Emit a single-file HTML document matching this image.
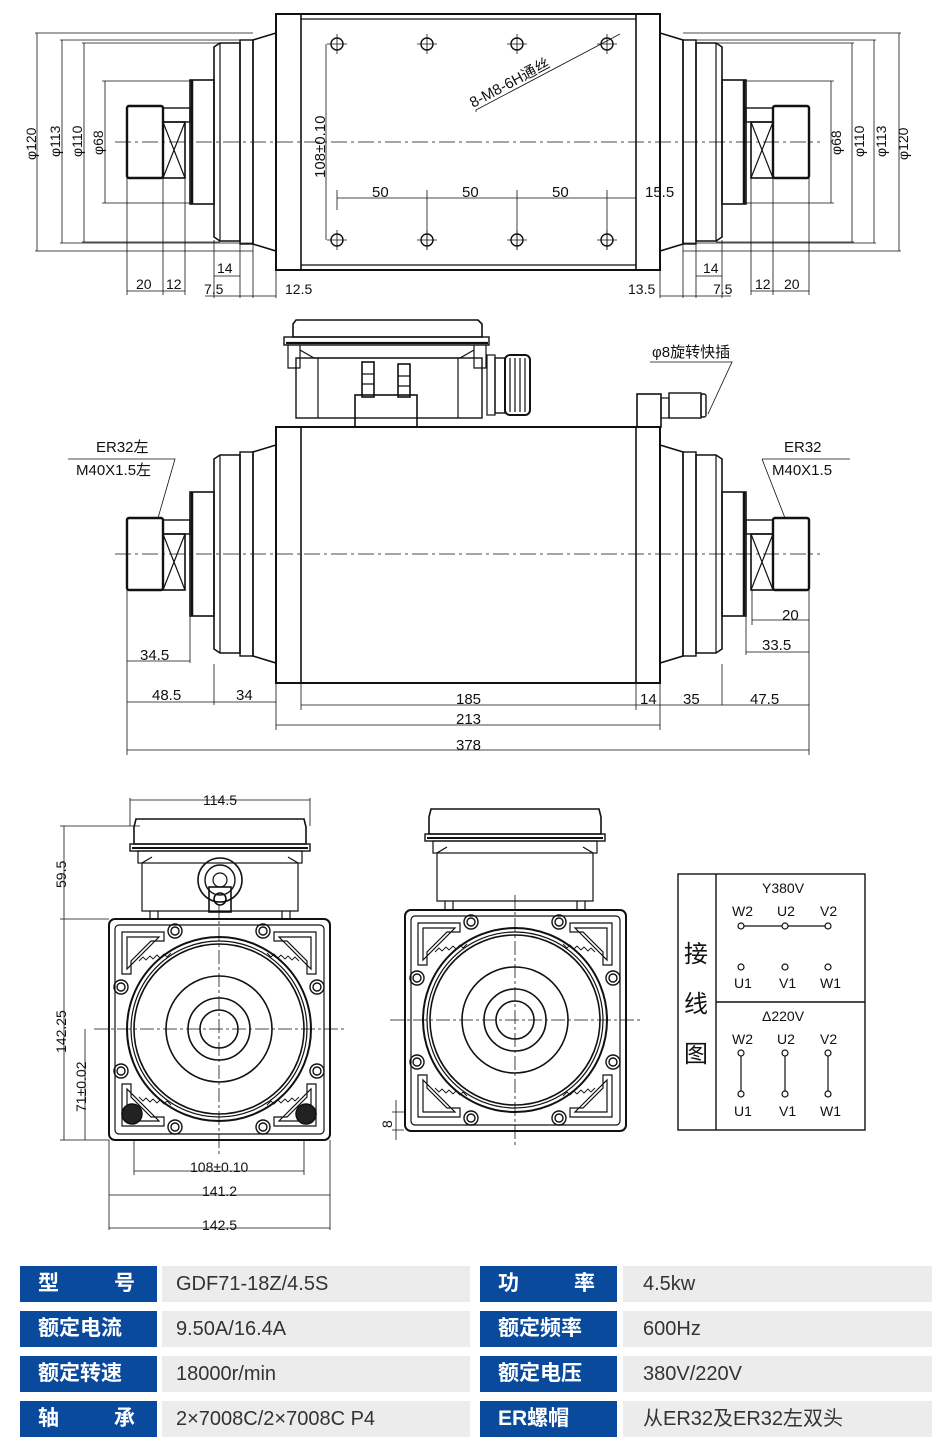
<!DOCTYPE html>
<html><head><meta charset="utf-8"><style>
html,body{margin:0;padding:0;background:#fff;}
body{width:946px;height:1447px;position:relative;overflow:hidden;font-family:"Liberation Sans","Noto Sans CJK SC",sans-serif;}
svg text{font-family:"Liberation Sans","Noto Sans CJK SC",sans-serif;fill:#111;}
.tb{position:absolute;height:36px;line-height:36px;font-size:20px;}
.lb{background:#0a4a9c;color:#fff;font-weight:bold;font-size:21px;}
.vl{background:#ececec;color:#333;padding-left:14px;box-sizing:border-box;}
</style></head><body>
<svg width="946" height="1250" viewBox="0 0 946 1250" style="position:absolute;left:0;top:0" fill="none" stroke="#111" stroke-width="1.2">
<defs>
<g id="flange">
 <path d="M276,-109 L253,-102 L253,102 L276,109 Z" stroke-width="1.6"/>
 <rect x="240" y="-102" width="13" height="204" stroke-width="1.4"/>
 <path d="M240,-99 L220,-99 L214,-95 L214,95 L220,99 L240,99 Z" stroke-width="1.6"/>
 <line x1="220" y1="-99" x2="220" y2="99"/>
 <rect x="190" y="-62" width="24" height="124" stroke-width="1.6"/>
 <line x1="192" y1="-62" x2="192" y2="62" stroke-width="2.5"/>
 <rect x="163" y="-34" width="27" height="14" stroke-width="1.4"/>
 <rect x="163" y="-20" width="22" height="56" stroke-width="1.6"/>
 <path d="M163,-20 L185,36 M185,-20 L163,36"/>
 <rect x="127" y="-36" width="36" height="72" rx="2" stroke-width="2.4"/>
</g>
<g id="face">
 <rect x="-110" y="-110" width="221" height="221" rx="6" stroke-width="2"/>
 <rect x="-104" y="-104" width="209" height="209" rx="4"/>
 <circle r="92" stroke-width="2"/><circle r="88"/><circle r="85" stroke-width="1.6"/>
 <circle r="53" stroke-width="1.6"/><circle r="31" stroke-width="1.6"/><circle r="19" stroke-width="1.6"/>
 <g stroke-width="1.4">
 <circle cx="-44" cy="-98" r="7"/><circle cx="-44" cy="-98" r="4"/>
 <circle cx="44" cy="-98" r="7"/><circle cx="44" cy="-98" r="4"/>
 <circle cx="-44" cy="98" r="7"/><circle cx="-44" cy="98" r="4"/>
 <circle cx="44" cy="98" r="7"/><circle cx="44" cy="98" r="4"/>
 <circle cx="-98" cy="-42" r="7"/><circle cx="-98" cy="-42" r="4"/>
 <circle cx="98" cy="-42" r="7"/><circle cx="98" cy="-42" r="4"/>
 <circle cx="-98" cy="42" r="7"/><circle cx="-98" cy="42" r="4"/>
 <circle cx="98" cy="42" r="7"/><circle cx="98" cy="42" r="4"/>
 </g>
 <path d="M-97,-97 L-55,-97 L-55,-88 L-68,-88 L-88,-68 L-88,-55 L-97,-55 Z M-92,-92 L-60,-92 L-92,-60 Z"/>
 <path d="M97,-97 L55,-97 L55,-88 L68,-88 L88,-68 L88,-55 L97,-55 Z M92,-92 L60,-92 L92,-60 Z"/>
 <path d="M-97,97 L-55,97 L-55,88 L-68,88 L-88,68 L-88,55 L-97,55 Z M-92,92 L-60,92 L-92,60 Z"/>
 <path d="M97,97 L55,97 L55,88 L68,88 L88,68 L88,55 L97,55 Z M92,92 L60,92 L92,60 Z"/>
 <path d="M-80,-68 l4,-4 l3,3 l4,-4 l3,3 l4,-4 l3,3 l4,-4 l3,3 l4,-4 M80,-68 l-4,-4 l-3,3 l-4,-4 l-3,3 l-4,-4 l-3,3 l-4,-4 l-3,3 l-4,-4 M-80,68 l4,4 l3,-3 l4,4 l3,-3 l4,4 l3,-3 l4,4 l3,-3 l4,4 M80,68 l-4,4 l-3,-3 l-4,4 l-3,-3 l-4,4 l-3,-3 l-4,4 l-3,-3 l-4,4" stroke-width="0.9"/>
 <g stroke="#111" stroke-width="0.8" stroke-dasharray="14,3,3,3">
 <line x1="-125" y1="0" x2="125" y2="0"/><line x1="0" y1="-125" x2="0" y2="125"/></g>
</g>
<g id="box">
 <path d="M-86,-92 L-84,-100 L84,-100 L86,-92 L86,-75 L-86,-75 Z" stroke-width="1.6"/>
 <rect x="-90" y="-75" width="180" height="7" stroke-width="1.4"/>
 <line x1="-88" y1="-71" x2="88" y2="-71" stroke-width="2"/>
 <rect x="-82" y="-68" width="164" height="12"/>
 <path d="M-68,-62 L-78,-56 L-78,-8 L78,-8 L78,-56 L68,-62"/>
 <path d="M-70,-8 L-70,0 M70,-8 L70,0 M-62,-8 L-62,0 M62,-8 L62,0"/>
</g>
</defs>

<!-- ===== TOP VIEW ===== -->
<rect x="276" y="14" width="384" height="256" stroke-width="2"/>
<line x1="301" y1="14" x2="301" y2="270" stroke-width="1.6"/>
<line x1="636" y1="14" x2="636" y2="270" stroke-width="1.6"/>
<line x1="301" y1="19" x2="636" y2="19"/><line x1="301" y1="265" x2="636" y2="265"/>
<use href="#flange" transform="translate(0,142)"/>
<use href="#flange" transform="translate(936,142) scale(-1,1)"/>
<line x1="115" y1="142" x2="820" y2="142" stroke-width="0.8" stroke-dasharray="16,4,3,4"/>
<g stroke-width="1.4">
<circle cx="337" cy="44" r="6"/><circle cx="427" cy="44" r="6"/><circle cx="517" cy="44" r="6"/><circle cx="607" cy="44" r="6"/>
<circle cx="337" cy="240" r="6"/><circle cx="427" cy="240" r="6"/><circle cx="517" cy="240" r="6"/><circle cx="607" cy="240" r="6"/>
</g>
<g stroke-width="0.8">
<path d="M337,34 V54 M327,44 H347 M427,34 V54 M417,44 H437 M517,34 V54 M507,44 H527 M607,34 V54 M597,44 H617"/>
<path d="M337,230 V250 M327,240 H347 M427,230 V250 M417,240 H437 M517,230 V250 M507,240 H527 M607,230 V250 M597,240 H617"/>
<path d="M326,44 V240 M337,198 H636 M337,190 V210 M427,190 V250 M517,190 V250 M607,190 V250 M636,190 V205"/>
<path d="M476,110 L620,34 M476,110 L476,112"/>
<path d="M35,33 H253 M60,40 H253 M82,43 H220 M102,81 H190 M35,251 H253 M60,243 H253 M82,242 H220 M102,203 H190"/>
<path d="M37,33 V251 M62,40 V243 M84,43 V242 M105,81 V203"/>
<path d="M901,33 H683 M876,40 H683 M854,43 H716 M834,81 H746 M901,251 H683 M876,243 H683 M854,242 H716 M834,203 H746"/>
<path d="M899,33 V251 M874,40 V243 M852,43 V242 M831,81 V203"/>
<path d="M127,178 V295 M163,178 V295 M185,178 V295 M214,240 V298 M240,244 V298 M253,244 V298 M276,270 V298"/>
<path d="M127,291 H185 M214,276 H240 M205,296 H276"/>
<path d="M809,178 V295 M773,178 V295 M751,178 V295 M722,240 V298 M696,244 V298 M683,244 V298 M660,270 V298"/>
<path d="M809,291 H751 M722,276 H696 M660,296 H731"/>
</g>
<g font-size="14" stroke="none">
<text transform="translate(36,160) rotate(-90)">φ120</text>
<text transform="translate(60,157) rotate(-90)">φ113</text>
<text transform="translate(82,157) rotate(-90)">φ110</text>
<text transform="translate(103,155) rotate(-90)">φ68</text>
<text transform="translate(841,155) rotate(-90)">φ68</text>
<text transform="translate(864,157) rotate(-90)">φ110</text>
<text transform="translate(886,157) rotate(-90)">φ113</text>
<text transform="translate(908,160) rotate(-90)">φ120</text>
<text transform="translate(325,178) rotate(-90)" font-size="15">108±0.10</text>
<text x="372" y="197" font-size="15">50</text><text x="462" y="197" font-size="15">50</text><text x="552" y="197" font-size="15">50</text><text x="645" y="197" font-size="15">15.5</text>
<text transform="translate(473,108) rotate(-28)" font-size="15">8-M8-6H通丝</text>
<text x="136" y="289">20</text><text x="166" y="289">12</text><text x="217" y="273">14</text><text x="204" y="294">7.5</text><text x="285" y="294">12.5</text>
<text x="628" y="294">13.5</text><text x="703" y="273">14</text><text x="713" y="294">7.5</text><text x="755" y="289">12</text><text x="784" y="289">20</text>
</g>

<!-- ===== SIDE VIEW ===== -->
<rect x="276" y="427" width="384" height="256" stroke-width="2"/>
<line x1="301" y1="427" x2="301" y2="683" stroke-width="1.6"/>
<line x1="636" y1="427" x2="636" y2="683" stroke-width="1.6"/>
<use href="#flange" transform="translate(0,554)"/>
<use href="#flange" transform="translate(936,554) scale(-1,1)"/>
<line x1="115" y1="554" x2="820" y2="554" stroke-width="0.8" stroke-dasharray="16,4,3,4"/>
<path d="M293,337 L293,324 L296,320 L478,320 L482,324 L482,337 Z" stroke-width="1.6"/>
<rect x="284" y="337" width="205" height="8" stroke-width="1.4"/>
<line x1="286" y1="343" x2="488" y2="343" stroke-width="2.2"/>
<path d="M288,345 V368 H300 V345 M474,345 V368 H486 V345"/>
<path d="M300,350 L314,358 L460,358 L474,350"/>
<rect x="296" y="358" width="186" height="60" stroke-width="1.4"/>
<line x1="318" y1="358" x2="318" y2="418"/><line x1="458" y1="358" x2="458" y2="418"/>
<rect x="355" y="395" width="62" height="32" stroke-width="1.6"/>
<rect x="362" y="362" width="12" height="35" stroke-width="1.6"/><rect x="398" y="364" width="12" height="33" stroke-width="1.6"/>
<path d="M362,374 H374 M362,384 H374 M398,376 H410 M398,386 H410"/>
<rect x="487" y="355" width="8" height="60"/><rect x="495" y="358" width="10" height="55" stroke-width="1.4"/>
<rect x="505" y="355" width="25" height="60" rx="5" stroke-width="2"/>
<path d="M510,358 V412 M515,358 V412 M520,358 V412 M525,358 V412"/>
<rect x="637" y="394" width="24" height="33" stroke-width="1.6"/>
<rect x="661" y="398" width="8" height="20"/><rect x="669" y="393" width="32" height="25" stroke-width="1.4"/>
<rect x="701" y="394" width="5" height="23" rx="2" stroke-width="1.4"/>
<g stroke-width="0.8">
<path d="M650,362 H732 L708,414"/>
<path d="M68,459 H175 L158,518"/>
<path d="M762,459 H850 M762,459 L785,518"/>
<path d="M127,590 V705 M214,664 V705 M276,683 V730 M301,683 V710 M636,683 V710 M660,683 V730 M809,590 V755 M127,705 V755 M190,616 V663"/>
<path d="M127,661 H190 M127,702 H276 M301,705 H636 M636,705 H660 M660,705 H809 M276,725 H660 M127,750 H809"/>
<path d="M752,590 V625 M809,620 H752 M722,664 V705 M746,616 V655 M746,652 H809"/>
</g>
<g font-size="15" stroke="none">
<text x="652" y="357">φ8旋转快插</text>
<text x="96" y="452">ER32左</text><text x="76" y="475">M40X1.5左</text>
<text x="784" y="452">ER32</text><text x="772" y="475">M40X1.5</text>
<text x="140" y="660">34.5</text><text x="152" y="700">48.5</text><text x="236" y="700">34</text>
<text x="456" y="704">185</text><text x="456" y="724">213</text><text x="456" y="750">378</text>
<text x="640" y="704">14</text><text x="683" y="704">35</text><text x="750" y="704">47.5</text>
<text x="782" y="620">20</text><text x="762" y="650">33.5</text>
</g>

<!-- ===== FRONT VIEWS ===== -->
<use href="#face" transform="translate(219,1029)"/>
<use href="#box" transform="translate(220,919)"/>
<circle cx="220" cy="880" r="22" stroke-width="1.6"/><circle cx="220" cy="880" r="15" stroke-width="1.4"/><circle cx="220" cy="880" r="7"/>
<rect x="209" y="887" width="22" height="25" stroke-width="1.6"/><circle cx="220" cy="899" r="6" stroke-width="1.6"/>
<circle cx="132" cy="1114" r="10" fill="#222" stroke-width="1.5"/><circle cx="306" cy="1114" r="10" fill="#222" stroke-width="1.5"/>
<use href="#face" transform="translate(515,1020)"/>
<use href="#box" transform="translate(515,909)"/>
<g stroke-width="0.8">
<path d="M130,800 H310 M130,798 V826 M310,798 V826"/>
<path d="M60,826 H140 M60,919 H109 M64,826 V919 M64,919 V1140 M60,1140 H109 M85,1029 V1140"/>
<path d="M134,1140 V1175 M304,1140 V1175 M134,1171 H304 M109,1140 V1230 M330,1140 V1230 M109,1195 H330 M109,1228 H330"/>
<path d="M392,1112 H404 M392,1130 H404 M396,1100 V1140"/>
</g>
<g font-size="14" stroke="none">
<text x="203" y="805">114.5</text>
<text transform="translate(66,888) rotate(-90)">59.5</text>
<text transform="translate(66,1053) rotate(-90)">142.25</text>
<text transform="translate(86,1112) rotate(-90)">71±0.02</text>
<text x="190" y="1172">108±0.10</text><text x="202" y="1196">141.2</text><text x="202" y="1230">142.5</text>
<text transform="translate(392,1128) rotate(-90)">8</text>
</g>

<rect x="678" y="874" width="187" height="256" stroke-width="1.4"/>
<line x1="716" y1="874" x2="716" y2="1130" stroke-width="1.4"/>
<line x1="716" y1="1002" x2="865" y2="1002" stroke-width="1.4"/>
<g stroke-width="1.2">
<line x1="741" y1="926" x2="828" y2="926"/>
<circle cx="741" cy="926" r="3" fill="#fff"/><circle cx="785" cy="926" r="3" fill="#fff"/><circle cx="828" cy="926" r="3" fill="#fff"/>
<circle cx="741" cy="967" r="3"/><circle cx="785" cy="967" r="3"/><circle cx="828" cy="967" r="3"/>
<path d="M741,1053 V1094 M785,1053 V1094 M828,1053 V1094"/>
<circle cx="741" cy="1053" r="3" fill="#fff"/><circle cx="785" cy="1053" r="3" fill="#fff"/><circle cx="828" cy="1053" r="3" fill="#fff"/>
<circle cx="741" cy="1094" r="3" fill="#fff"/><circle cx="785" cy="1094" r="3" fill="#fff"/><circle cx="828" cy="1094" r="3" fill="#fff"/>
</g>
<g font-size="14" stroke="none">
<text x="762" y="893">Y380V</text>
<text x="732" y="916">W2</text><text x="777" y="916">U2</text><text x="820" y="916">V2</text>
<text x="734" y="988">U1</text><text x="779" y="988">V1</text><text x="820" y="988">W1</text>
<text x="762" y="1021">Δ220V</text>
<text x="732" y="1044">W2</text><text x="777" y="1044">U2</text><text x="820" y="1044">V2</text>
<text x="734" y="1116">U1</text><text x="779" y="1116">V1</text><text x="820" y="1116">W1</text>
<text x="684" y="962" font-size="24">接</text><text x="684" y="1012" font-size="24">线</text><text x="684" y="1062" font-size="24">图</text>
</g>
</svg>

<div class="tb lb" style="left:20px;top:1266px;width:137px;"><span style="position:absolute;left:18px">型</span><span style="position:absolute;right:22px">号</span></div>
<div class="tb vl" style="left:162px;top:1266px;width:308px;">GDF71-18Z/4.5S</div>
<div class="tb lb" style="left:480px;top:1266px;width:137px;"><span style="position:absolute;left:18px">功</span><span style="position:absolute;right:22px">率</span></div>
<div class="tb vl" style="left:623px;top:1266px;width:309px;padding-left:20px">4.5kw</div>

<div class="tb lb" style="left:20px;top:1311px;width:137px;padding-left:18px;box-sizing:border-box">额定电流</div>
<div class="tb vl" style="left:162px;top:1311px;width:308px;">9.50A/16.4A</div>
<div class="tb lb" style="left:480px;top:1311px;width:137px;padding-left:18px;box-sizing:border-box">额定频率</div>
<div class="tb vl" style="left:623px;top:1311px;width:309px;padding-left:20px">600Hz</div>

<div class="tb lb" style="left:20px;top:1356px;width:137px;padding-left:18px;box-sizing:border-box">额定转速</div>
<div class="tb vl" style="left:162px;top:1356px;width:308px;">18000r/min</div>
<div class="tb lb" style="left:480px;top:1356px;width:137px;padding-left:18px;box-sizing:border-box">额定电压</div>
<div class="tb vl" style="left:623px;top:1356px;width:309px;padding-left:20px">380V/220V</div>

<div class="tb lb" style="left:20px;top:1401px;width:137px;"><span style="position:absolute;left:18px">轴</span><span style="position:absolute;right:22px">承</span></div>
<div class="tb vl" style="left:162px;top:1401px;width:308px;">2×7008C/2×7008C P4</div>
<div class="tb lb" style="left:480px;top:1401px;width:137px;padding-left:18px;box-sizing:border-box">ER螺帽</div>
<div class="tb vl" style="left:623px;top:1401px;width:309px;padding-left:20px">从ER32及ER32左双头</div>
</body></html>
